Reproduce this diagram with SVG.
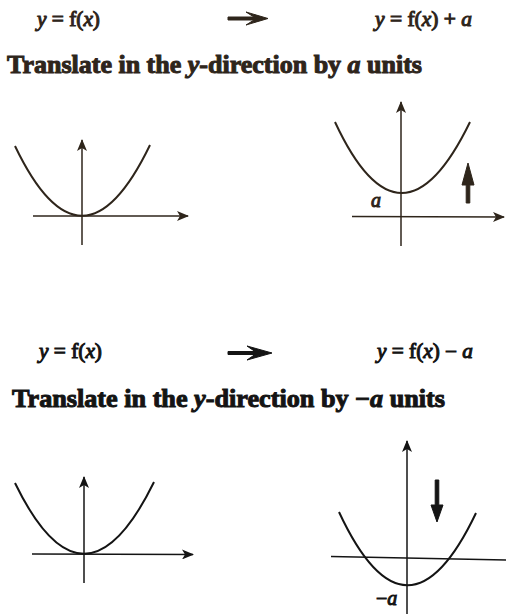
<svg xmlns="http://www.w3.org/2000/svg" width="506" height="614" viewBox="0 0 506 614">
<style>
.f{font-family:'Liberation Serif','Times New Roman',Tinos,serif;font-size:20px}
.t{font-family:'Liberation Serif','Times New Roman',Tinos,serif;font-size:25px;font-weight:bold}
.i{font-style:italic}
.ax{fill:none;stroke-width:1.5}
.cv{fill:none;stroke-width:2}
.top{fill:#2e251b;stroke:#2e251b}
.bot{fill:#141414;stroke:#141414}
</style>
<defs>
<marker id="ah1" viewBox="0 0 12 10" refX="11" refY="5" markerWidth="12" markerHeight="10" markerUnits="userSpaceOnUse" orient="auto">
<path d="M0,0 L12,5 L0,10 L3,5 Z" fill="#2e251b"/>
</marker>
<marker id="ah2" viewBox="0 0 12 10" refX="11" refY="5" markerWidth="12" markerHeight="10" markerUnits="userSpaceOnUse" orient="auto">
<path d="M0,0 L12,5 L0,10 L3,5 Z" fill="#141414"/>
</marker>
</defs>
<rect width="506" height="614" fill="#ffffff"/>

<g id="top-formulas">
<text class="f top" x="37" y="26" stroke="none" textLength="63" lengthAdjust="spacingAndGlyphs"><tspan class="i">y</tspan> = f(<tspan class="i">x</tspan>)</text>
<path class="top" stroke="none" d="M228,17 L254,17 L246,12 L268,18.5 L246,25 L254,20 L228,20 Z"/>
<text class="f top" x="375" y="26" stroke="none" textLength="97" lengthAdjust="spacingAndGlyphs"><tspan class="i">y</tspan> = f(<tspan class="i">x</tspan>) + <tspan class="i">a</tspan></text>
</g>
<text id="title-1" class="t top" x="7" y="73" stroke="none" textLength="415" lengthAdjust="spacingAndGlyphs">Translate in the <tspan class="i">y</tspan>-direction by <tspan class="i">a</tspan> units</text>

<g id="graph-1" class="top">
<line class="ax" x1="33" y1="216" x2="188" y2="216" marker-end="url(#ah1)"/>
<line class="ax" x1="82" y1="245" x2="82" y2="140" marker-end="url(#ah1)"/>
<path class="cv" d="M15,146 Q82,286 150,145"/>
</g>

<g id="graph-2" class="top">
<line class="ax" x1="352" y1="216.5" x2="504" y2="217" marker-end="url(#ah1)"/>
<line class="ax" x1="401" y1="246" x2="401" y2="102" marker-end="url(#ah1)"/>
<path class="cv" d="M335,122 Q401,264 470,122"/>
<text class="f top i" x="371" y="207" stroke="none" font-size="16">a</text>
<path class="top" stroke="none" d="M466.2,203 L466.2,185 L462,185 L468,163 L474,185 L469.8,185 L469.8,203 Z"/>
</g>

<g id="bottom-formulas">
<text class="f bot" x="39" y="358" stroke="none" textLength="63" lengthAdjust="spacingAndGlyphs"><tspan class="i">y</tspan> = f(<tspan class="i">x</tspan>)</text>
<path class="bot" stroke="none" d="M228,351.5 L255,351.5 L247,346 L272,353 L247,360 L255,354.5 L228,354.5 Z"/>
<text class="f bot" x="377" y="358" stroke="none" textLength="96" lengthAdjust="spacingAndGlyphs"><tspan class="i">y</tspan> = f(<tspan class="i">x</tspan>) − <tspan class="i">a</tspan></text>
</g>
<text id="title-2" class="t bot" x="12" y="407" stroke="none" textLength="433" lengthAdjust="spacingAndGlyphs">Translate in the <tspan class="i">y</tspan>-direction by −<tspan class="i">a</tspan> units</text>

<g id="graph-3" class="bot">
<line class="ax" x1="32" y1="554" x2="193" y2="554.5" marker-end="url(#ah2)"/>
<line class="ax" x1="84" y1="583" x2="84" y2="477" marker-end="url(#ah2)"/>
<path class="cv" d="M15,483 Q84,625 154,482"/>
</g>

<g id="graph-4" class="bot">
<line class="ax" x1="331" y1="556.5" x2="506" y2="560"/>
<line class="ax" x1="407" y1="614" x2="407" y2="441" marker-end="url(#ah2)"/>
<path class="cv" d="M339,512 Q407,658 476,513"/>
<text class="f bot" x="376" y="605" stroke="none" font-size="17">−<tspan class="i">a</tspan></text>
<path class="bot" stroke="none" d="M435.2,480 L435.2,505 L431,505 L437,522 L443,505 L438.8,505 L438.8,480 Z"/>
</g>
</svg>
